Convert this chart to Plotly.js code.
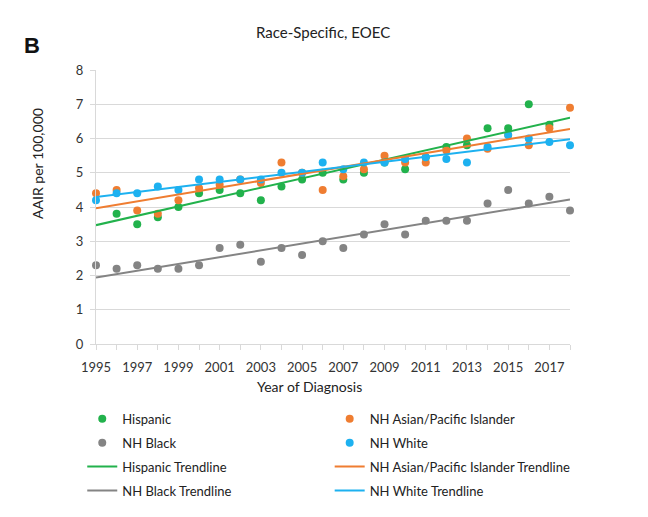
<!DOCTYPE html>
<html>
<head>
<meta charset="utf-8">
<script src="https://cdn.plot.ly/plotly-3.0.1.min.js"></script>
<style>
  html, body { margin: 0; padding: 0; background: #fff; }
  #chart { width: 648px; height: 517px; }
</style>
</head>
<body>
<div id="chart"></div>
<script>
// Age-adjusted incidence rate per 100,000, early-onset cases, by race/ethnicity
const years = [1995, 1996, 1997, 1998, 1999, 2000, 2001, 2002, 2003, 2004, 2005, 2006,
               2007, 2008, 2009, 2010, 2011, 2012, 2013, 2014, 2015, 2016, 2017, 2018];

const hispanic = [null, 3.8, 3.5, 3.7, 4.0, 4.4, 4.5, 4.4, 4.2, 4.6, 4.8, 5.0,
                  4.8, 5.0, 5.3, 5.1, 5.45, 5.75, 5.8, 6.3, 6.3, 7.0, 6.4, null];
const asianPI = [4.4, 4.5, 3.9, 3.8, 4.2, 4.55, 4.65, 4.8, 4.7, 5.3, 5.0, 4.5,
                 4.9, 5.1, 5.5, 5.3, 5.3, 5.65, 6.0, 5.7, 6.1, 5.8, 6.3, 6.9];
const black = [2.3, 2.2, 2.3, 2.2, 2.2, 2.3, 2.8, 2.9, 2.4, 2.8, 2.6, 3.0,
               2.8, 3.2, 3.5, 3.2, 3.6, 3.6, 3.6, 4.1, 4.5, 4.1, 4.3, 3.9];
const white = [4.2, 4.4, 4.4, 4.6, 4.5, 4.8, 4.8, 4.8, 4.8, 5.0, 5.0, 5.3,
               5.1, 5.3, 5.3, 5.4, 5.45, 5.4, 5.3, 5.75, 6.1, 6.0, 5.9, 5.8];

// Linear trendline values at the first and last year
const trendYears = [1995, 2018];
const hispanicTrend = [3.47, 6.61];
const asianPITrend = [3.96, 6.28];
const blackTrend = [1.94, 4.22];
const whiteTrend = [4.29, 5.98];

const seriesNames = ['Hispanic', 'NH Asian/Pacific Islander', 'NH Black', 'NH White'];
const trendNames = ['Hispanic Trendline', 'NH Asian/Pacific Islander Trendline',
                    'NH Black Trendline', 'NH White Trendline'];

const colors = ['#22b24c', '#ef7d31', '#848484', '#1db1f0'];
const FONT = 'Lato, "Open Sans", sans-serif';

const pointSets = [hispanic, asianPI, black, white];
const trendSets = [hispanicTrend, asianPITrend, blackTrend, whiteTrend];
// left legend column: Hispanic & NH Black; right column: Asian/PI & NH White
const legendFor = ['legend', 'legend2', 'legend', 'legend2'];

const traces = [];
pointSets.forEach((vals, i) => {
  traces.push({
    type: 'scatter', mode: 'markers', x: years, y: vals, name: seriesNames[i],
    marker: { color: colors[i], size: 8 }, cliponaxis: false,
    legend: legendFor[i], legendgroup: 'p' + i
  });
});
trendSets.forEach((vals, i) => {
  traces.push({
    type: 'scatter', mode: 'lines', x: trendYears, y: vals, name: trendNames[i],
    line: { color: colors[i], width: 2 }, cliponaxis: false,
    legend: legendFor[i], legendgroup: 't' + i
  });
});

const legendBase = {
  orientation: 'v', yanchor: 'top', xanchor: 'left',
  traceorder: 'grouped', tracegroupgap: 4,
  font: { family: FONT, size: 13, color: '#222' },
  bgcolor: 'rgba(0,0,0,0)', itemclick: false
};

const layout = {
  width: 648, height: 517,
  margin: { l: 96, r: 78, t: 70, b: 172 },
  paper_bgcolor: '#fff', plot_bgcolor: '#fff',
  font: { family: FONT, size: 13, color: '#333' },
  showlegend: true,
  xaxis: {
    range: [1995, 2018], tick0: 1995, dtick: 2,
    showgrid: false, zeroline: false,
    showline: true, linecolor: '#d9d9d9', linewidth: 1,
    ticks: 'outside', ticklen: 5, tickcolor: '#d9d9d9', ticklabelstandoff: 6,
    minor: { dtick: 1, tick0: 1995, ticks: 'outside', ticklen: 5, tickcolor: '#d9d9d9' },
    tickfont: { family: FONT, size: 13, color: '#333' }
  },
  yaxis: {
    range: [0, 8], dtick: 1,
    showgrid: true, gridcolor: '#d9d9d9', gridwidth: 1, zeroline: false,
    showline: true, linecolor: '#d9d9d9', linewidth: 1,
    ticks: 'outside', ticklen: 5, tickcolor: '#d9d9d9', ticklabelstandoff: 4,
    tickfont: { family: FONT, size: 13, color: '#333' }
  },
  legend: Object.assign({}, legendBase, { x: -0.029, y: -0.214 }),
  legend2: Object.assign({}, legendBase, { x: 0.493, y: -0.214 }),
  annotations: [
    { text: 'Race-Specific, EOEC', xref: 'paper', yref: 'paper', x: 0.478, y: 1.138,
      xanchor: 'center', yanchor: 'middle',
      showarrow: false, font: { family: FONT, size: 15, color: '#222' } },
    { text: '<b>B</b>', xref: 'paper', yref: 'paper', x: -0.136, y: 1.091,
      xanchor: 'center', yanchor: 'middle', showarrow: false,
      font: { family: '"Liberation Sans", Arial, sans-serif', size: 22, color: '#111' } },
    { text: 'AAIR per 100,000', xref: 'paper', yref: 'paper', x: -0.122, y: 0.658,
      xanchor: 'center', yanchor: 'middle',
      textangle: -90, showarrow: false, font: { family: FONT, size: 14, color: '#222' } },
    { text: 'Year of Diagnosis', xref: 'paper', yref: 'paper', x: 0.451, y: -0.156,
      xanchor: 'center', yanchor: 'middle',
      showarrow: false, font: { family: FONT, size: 14, color: '#222' } }
  ]
};

Plotly.newPlot('chart', traces, layout, { displayModeBar: false, staticPlot: true });
</script>
</body>
</html>
